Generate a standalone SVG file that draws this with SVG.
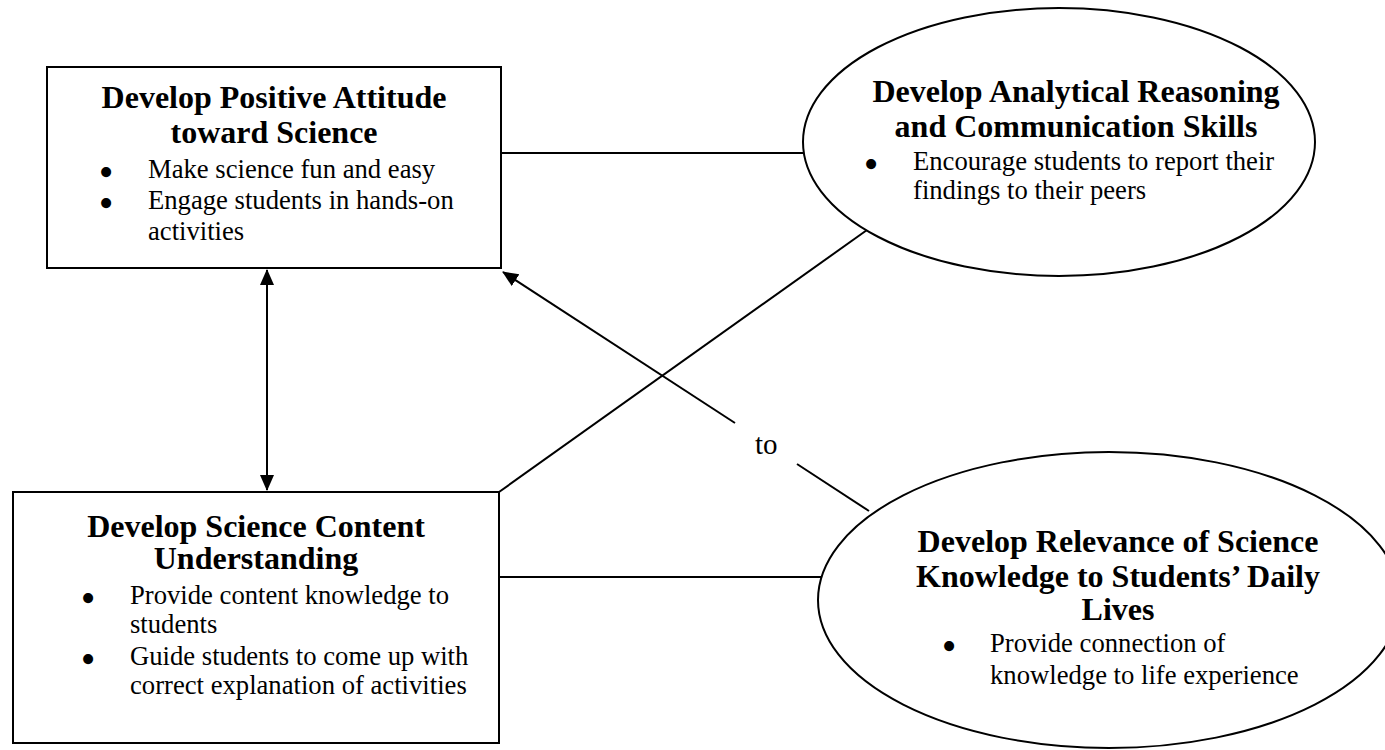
<svg xmlns="http://www.w3.org/2000/svg" width="1385" height="750" viewBox="0 0 1385 750">
<style>
.shape{fill:#fff;stroke:#000;stroke-width:2}
.line{fill:none;stroke:#000;stroke-width:2}
.t{font-family:"Liberation Serif","Times New Roman",serif;font-weight:bold;font-size:32px;fill:#000;text-anchor:middle}
.b{font-family:"Liberation Serif","Times New Roman",serif;font-size:26.67px;fill:#000}
.dot{font-family:"Liberation Serif","Times New Roman",serif;font-size:42px;fill:#000;text-anchor:middle}
.lbl{font-family:"Liberation Serif","Times New Roman",serif;font-size:29px;fill:#000}
</style>
<defs>
<marker id="ah" viewBox="0 0 16 16" refX="15" refY="8" markerWidth="16" markerHeight="16" markerUnits="userSpaceOnUse" orient="auto-start-reverse">
<path d="M0,1 L16,8 L0,15 Z" fill="#000"/>
</marker>
</defs>
<rect width="1385" height="750" fill="#fff"/>
<g id="connectors">
<line class="line" x1="501" y1="153" x2="804" y2="153"/>
<line class="line" x1="499" y1="492" x2="867" y2="230"/>
<line class="line" x1="499" y1="577" x2="821" y2="577"/>
<line class="line" x1="267" y1="270" x2="267" y2="490" marker-start="url(#ah)" marker-end="url(#ah)"/>
<line class="line" x1="735" y1="423" x2="503" y2="272" marker-end="url(#ah)"/>
<line class="line" x1="797" y1="464" x2="869" y2="511"/>
<text class="lbl" x="755" y="454">to</text>
</g>
<g id="node-attitude">
<rect class="shape" x="47" y="67" width="454" height="201"/>
<text class="t" x="274" y="108">Develop Positive Attitude</text>
<text class="t" x="274" y="143">toward Science</text>
<text class="dot" x="106" y="186">•</text>
<text class="b" x="148" y="178">Make science fun and easy</text>
<text class="dot" x="106" y="217">•</text>
<text class="b" x="148" y="209">Engage students in hands-on</text>
<text class="b" x="148" y="240">activities</text>
</g>
<g id="node-content">
<rect class="shape" x="13" y="492" width="486" height="251"/>
<text class="t" x="256" y="537">Develop Science Content</text>
<text class="t" x="256" y="569">Understanding</text>
<text class="dot" x="88" y="612">•</text>
<text class="b" x="130" y="604">Provide content knowledge to</text>
<text class="b" x="130" y="633">students</text>
<text class="dot" x="88" y="673">•</text>
<text class="b" x="130" y="665">Guide students to come up with</text>
<text class="b" x="130" y="694">correct explanation of activities</text>
</g>
<g id="node-analytical">
<ellipse class="shape" cx="1059" cy="142" rx="256" ry="134"/>
<text class="t" x="1076" y="102">Develop Analytical Reasoning</text>
<text class="t" x="1076" y="137">and Communication Skills</text>
<text class="dot" x="871" y="178">•</text>
<text class="b" x="913" y="170">Encourage students to report their</text>
<text class="b" x="913" y="199">findings to their peers</text>
</g>
<g id="node-relevance">
<ellipse class="shape" cx="1109" cy="600" rx="291" ry="148"/>
<text class="t" x="1118" y="552">Develop Relevance of Science</text>
<text class="t" x="1118" y="587">Knowledge to Students’ Daily</text>
<text class="t" x="1118" y="620">Lives</text>
<text class="dot" x="949" y="660">•</text>
<text class="b" x="990" y="652">Provide connection of</text>
<text class="b" x="990" y="684">knowledge to life experience</text>
</g>
</svg>
